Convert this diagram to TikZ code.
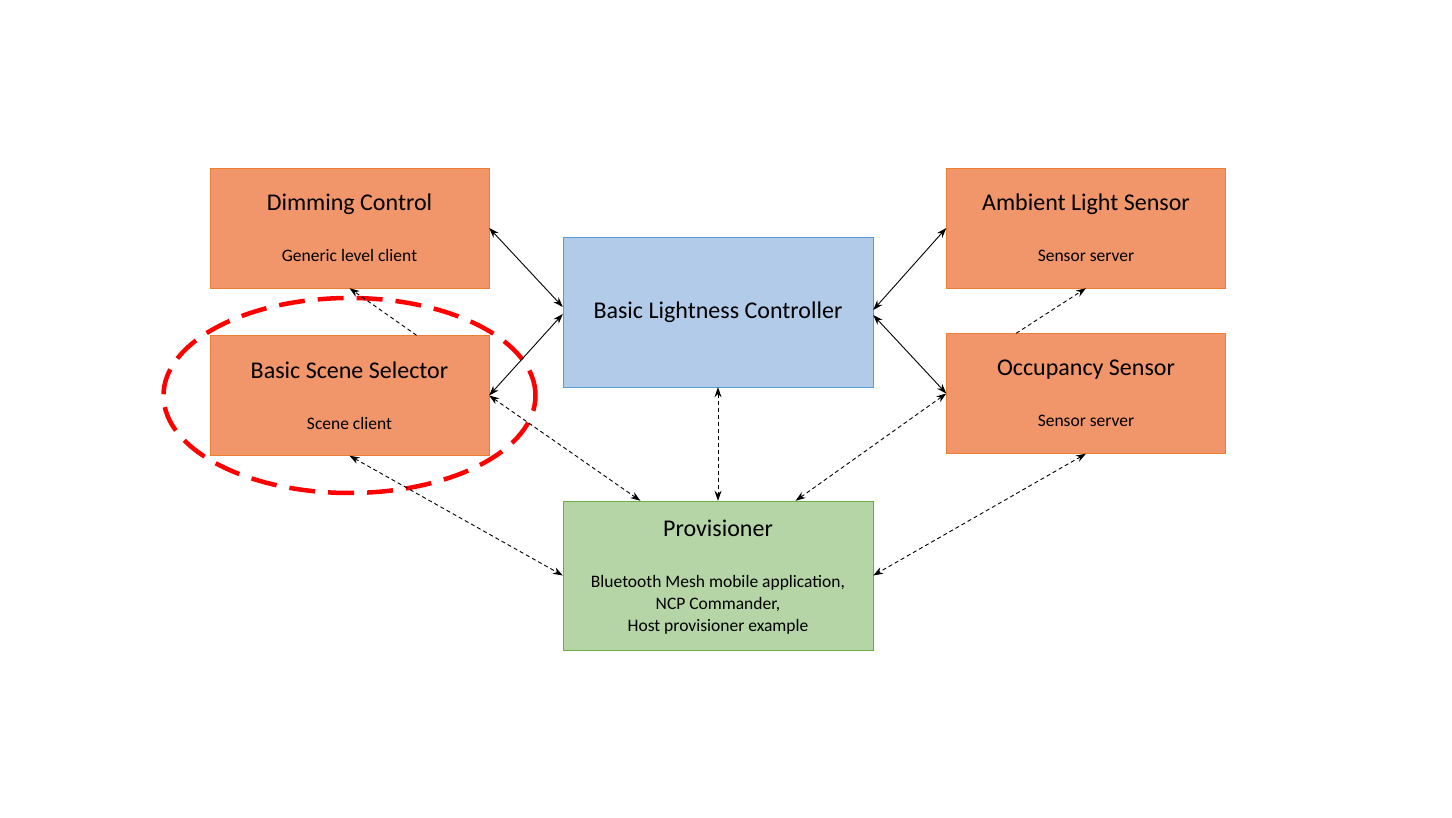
\documentclass[tikz,border=0pt]{standalone}
\usepackage{fontspec}
\setmainfont{Carlito}
\usepackage{tikz}
\usetikzlibrary{shapes.geometric, arrows.meta, positioning, calc}

\definecolor{nodeorange}{HTML}{F1956A}
\definecolor{edgeorange}{HTML}{ED7D31}
\definecolor{nodeblue}{HTML}{B2CBE8}
\definecolor{edgeblue}{HTML}{5B9BD5}
\definecolor{nodegreen}{HTML}{B5D5A7}
\definecolor{edgegreen}{HTML}{70AD47}

\newcommand{\titletext}[1]{{\fontsize{24}{28}\selectfont #1}}

\begin{document}
\begin{tikzpicture}[
    x=1pt, y=-1pt,
    >={Stealth[length=10pt,width=7pt]},
    device/.style={rectangle, draw=edgeorange, fill=nodeorange, minimum width=279pt, minimum height=120pt, align=center, inner sep=0pt, font=\fontsize{17.5}{22}\selectfont},
    control/.style={rectangle, draw=edgeblue, fill=nodeblue, minimum width=310pt, minimum height=150pt, align=center, inner sep=0pt},
    prov/.style={rectangle, draw=edgegreen, fill=nodegreen, minimum width=310pt, minimum height=149pt, align=center, inner sep=0pt, text depth=0pt, font=\fontsize{17.5}{22}\selectfont},
    link/.style={<->, line width=0.9pt},
    dlink/.style={<->, line width=0.9pt, dash pattern=on 4pt off 3pt},
    oneway/.style={->, line width=0.9pt, dash pattern=on 4pt off 3pt}
]
    \useasboundingbox (0,0) rectangle (1452,818);

    \node[device] (dim) at (349.5,228) {\titletext{Dimming Control}\\[29pt]Generic level client};
    \node[device] (scene) at (349.5,395.5) {\titletext{Basic Scene Selector}\\[29pt]Scene client};
    \node[control] (blc) at (718,312) {\titletext{Basic Lightness Controller}};
    \node[device] (amb) at (1086,228) {\titletext{Ambient Light Sensor}\\[29pt]Sensor server};
    \node[device] (occ) at (1086,393.5) {\titletext{Occupancy Sensor}\\[29pt]Sensor server};
    \node[prov] (provi) at (718,575.5) {\titletext{Provisioner}\\[29pt]Bluetooth Mesh mobile application,\\NCP Commander,\\Host provisioner example};

    % highlight round the scene selector
    \node[ellipse, draw=red, line width=4.5pt, dash pattern=on 26pt off 13pt, minimum width=372pt, minimum height=195pt] (ring) at (349.5,395.5) {};

    % solid links to the controller
    \draw[link] (dim.east) -- ([yshift=5pt]blc.west);
    \draw[link] (scene.east) -- ([yshift=-2pt]blc.west);
    \draw[link] ([yshift=2pt]blc.east) -- (amb.west);
    \draw[link] ([yshift=-3pt]blc.east) -- (occ.west);

    % dashed links
    \draw[oneway] ($(scene.north)!0.48!(scene.north east)$) -- (dim.south);
    \draw[oneway] ($(occ.north west)!0.5!(occ.north)$) -- (amb.south);
    \draw[dlink] (scene.east) -- ($(provi.north west)!0.5!(provi.north)$);
    \draw[dlink] (scene.south) -- (provi.west);
    \draw[dlink] (blc.south) -- (provi.north);
    \draw[dlink] (occ.west) -- ($(provi.north)!0.5!(provi.north east)$);
    \draw[dlink] (occ.south) -- (provi.east);
\end{tikzpicture}
\end{document}
